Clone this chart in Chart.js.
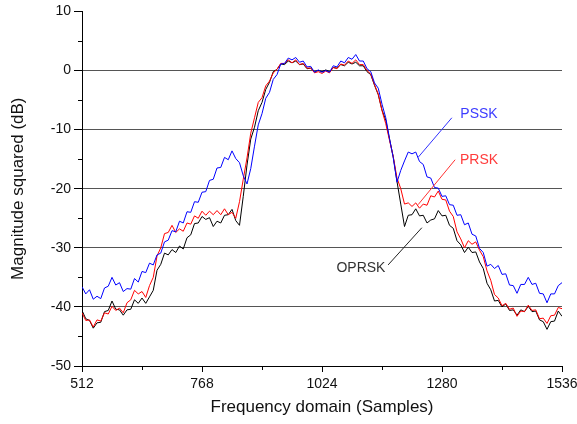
<!DOCTYPE html>
<html>
<head>
<meta charset="utf-8">
<script src="https://cdn.jsdelivr.net/npm/chart.js@4.4.1/dist/chart.umd.min.js"></script>
<style>
  html, body { margin: 0; padding: 0; background: #fff; }
  #wrap { width: 577px; height: 424px; position: relative; }
</style>
</head>
<body>
<div id="wrap"><canvas id="spectrum"></canvas></div>
<script>
// sample grid (every 8th bin from 512 to 1536)
const samples = Array.from({ length: 129 }, (_, i) => 512 + 8 * i);

const xTicks = [512, 768, 1024, 1280, 1536];
const xMinor = [640, 896, 1152, 1408];
const yTicks = [10, 0, -10, -20, -30, -40, -50];
const yMinor = [5, -5, -15, -25, -35, -45];

// PSSK (blue)
const pssk = [
  -36.6, -37.8, -37.1, -38.7, -38.2, -38.6, -36.8, -36.5, -35.0, -36.3,
  -35.9, -37.4, -36.9, -37.0, -35.2, -35.8, -34.0, -34.2, -32.6, -32.9,
  -31.2, -30.9, -29.0, -28.7, -27.1, -27.3, -25.5, -25.8, -23.9, -24.0,
  -22.2, -22.3, -20.6, -20.5, -18.6, -18.4, -16.5, -16.4, -14.7, -15.1,
  -13.6, -14.9, -15.6, -17.8, -19.2, -16.6, -12.8, -9.2, -7.3, -4.7,
  -3.7, -1.5, -0.7, 1.1, 1.2, 2.1, 1.8, 2.2, 1.4, 1.6,
  0.6, 0.7, -0.3, 0.1, -0.3, 0.0, -0.3, 0.8, 0.6, 1.6,
  1.3, 2.2, 1.9, 2.7, 1.6, 1.6, 0.3, -0.2, -2.1, -3.0,
  -5.7, -8.0, -11.5, -14.8, -18.9, -16.9, -15.3, -13.8, -14.1, -13.8,
  -15.4, -15.9, -18.0, -18.2, -19.8, -19.9, -21.3, -21.2, -22.7, -22.8,
  -24.5, -24.4, -26.1, -25.8, -27.7, -28.0, -30.1, -30.8, -33.1, -32.8,
  -33.5, -33.0, -34.5, -34.4, -36.3, -36.4, -37.7, -36.2, -36.2, -35.0,
  -36.2, -36.0, -37.7, -37.8, -39.3, -37.8, -37.8, -36.4, -35.9
];

// PRSK (red)
const prsk = [
  -41.0, -42.3, -42.2, -43.4, -42.2, -42.4, -41.0, -41.2, -39.9, -40.6,
  -40.2, -41.0, -39.3, -38.8, -37.2, -37.8, -37.4, -38.4, -36.4, -35.0,
  -31.4, -30.0, -27.6, -27.4, -26.2, -27.4, -26.8, -27.2, -25.8, -26.0,
  -24.6, -25.0, -23.8, -24.5, -23.8, -24.4, -23.7, -24.4, -23.4, -24.4,
  -24.0, -25.0, -22.2, -18.4, -14.8, -10.6, -8.0, -5.4, -4.6, -2.6,
  -1.8, -0.4, 0.2, 1.2, 1.2, 1.8, 1.3, 1.8, 1.0, 1.2,
  0.4, 0.4, -0.4, -0.2, -0.5, -0.1, -0.4, 0.5, 0.3, 1.1,
  0.9, 1.6, 1.2, 1.8, 1.0, 1.0, 0.0, -0.6, -2.4, -4.0,
  -6.8, -9.0, -11.8, -14.6, -18.2, -20.0, -22.6, -22.4, -23.0, -22.4,
  -23.3, -22.6, -22.8, -21.2, -21.4, -20.4, -21.8, -21.9, -23.8, -24.7,
  -27.3, -28.5, -30.0, -28.8, -29.4, -29.0, -30.4, -31.5, -33.9, -35.5,
  -37.9, -38.5, -39.8, -39.4, -40.4, -40.2, -41.6, -40.7, -40.8, -39.7,
  -40.6, -40.5, -42.0, -41.9, -42.8, -41.5, -41.4, -40.1, -40.3
];

// OPRSK (black)
const oprsk = [
  -40.6, -42.0, -42.3, -43.6, -42.7, -42.6, -40.8, -40.6, -39.0, -40.4,
  -40.5, -41.4, -40.5, -40.4, -38.8, -39.4, -38.5, -39.4, -38.3, -37.2,
  -33.8, -32.8, -30.9, -31.2, -30.3, -30.8, -29.7, -30.2, -28.3, -27.8,
  -25.9, -25.8, -24.7, -25.2, -24.9, -26.4, -25.5, -25.8, -24.5, -24.4,
  -23.5, -25.4, -26.2, -21.3, -16.0, -11.6, -9.6, -6.8, -5.4, -3.2,
  -2.0, -0.2, 0.2, 1.1, 1.0, 1.6, 1.3, 1.6, 1.0, 1.1,
  0.3, 0.4, -0.2, 0.0, -0.2, 0.1, -0.2, 0.5, 0.4, 1.0,
  0.8, 1.4, 1.1, 1.4, 0.8, 0.8, -0.2, -0.7, -2.5, -4.1,
  -6.7, -8.4, -11.6, -14.6, -18.8, -22.6, -26.4, -24.5, -24.4, -23.4,
  -24.6, -24.5, -25.8, -25.3, -25.1, -23.7, -24.6, -24.5, -26.2, -26.7,
  -28.8, -29.5, -30.8, -29.9, -30.8, -30.7, -32.4, -33.5, -36.0, -37.1,
  -39.0, -38.9, -40.0, -39.5, -40.6, -40.5, -41.4, -40.5, -40.8, -39.9,
  -40.8, -40.7, -42.2, -42.5, -43.8, -42.5, -42.4, -40.7, -41.6
];

// labels with leader lines, in data units
const callouts = [
  { text: 'PSSK', color: '#3c3cff', line: '#3030ff', at: [1359, -7.3], from: [1301, -8.0], to: [1229, -14.7] },
  { text: 'PRSK', color: '#ff3c3c', line: '#ff3030', at: [1359, -15.1], from: [1308, -15.1], to: [1229, -22.7] },
  { text: 'OPRSK', color: '#333333', line: '#222222', at: [1107, -33.4], from: [1165, -32.9], to: [1237, -26.6] }
];

const FONT = '"Liberation Sans", Arial, sans-serif';
const toPoints = vals => vals.map((v, i) => ({ x: samples[i], y: v }));

const extras = {
  id: 'extras',
  afterDraw(chart) {
    const { ctx, scales: { x, y } } = chart;
    ctx.save();
    // minor ticks
    ctx.strokeStyle = '#000';
    ctx.lineWidth = 1;
    ctx.beginPath();
    yMinor.forEach(v => {
      const py = Math.round(y.getPixelForValue(v)) + 0.5;
      ctx.moveTo(x.left - 4, py);
      ctx.lineTo(x.left, py);
    });
    xMinor.forEach(v => {
      const px = Math.round(x.getPixelForValue(v)) + 0.5;
      ctx.moveTo(px, y.bottom);
      ctx.lineTo(px, y.bottom + 4);
    });
    ctx.stroke();

    // callouts
    ctx.font = '14px ' + FONT;
    ctx.textAlign = 'center';
    ctx.textBaseline = 'middle';
    callouts.forEach(c => {
      ctx.strokeStyle = c.line;
      ctx.beginPath();
      ctx.moveTo(x.getPixelForValue(c.from[0]), y.getPixelForValue(c.from[1]));
      ctx.lineTo(x.getPixelForValue(c.to[0]), y.getPixelForValue(c.to[1]));
      ctx.stroke();
      ctx.fillStyle = c.color;
      ctx.fillText(c.text, x.getPixelForValue(c.at[0]), y.getPixelForValue(c.at[1]));
    });
    ctx.restore();
  }
};

const ctx = document.getElementById('spectrum').getContext('2d');
new Chart(ctx, {
  type: 'line',
  data: {
    datasets: [
      { label: 'PSSK', data: toPoints(pssk), borderColor: '#0000ff', order: 0 },
      { label: 'PRSK', data: toPoints(prsk), borderColor: '#ff0000', order: 1 },
      { label: 'OPRSK', data: toPoints(oprsk), borderColor: '#000000', order: 2 }
    ]
  },
  options: {
    responsive: true,
    maintainAspectRatio: false,
    animation: false,
    devicePixelRatio: 1,
    layout: { padding: { left: 0, right: 15, top: 11, bottom: 0 } },
    elements: {
      line: { borderWidth: 1, tension: 0 },
      point: { radius: 0 }
    },
    scales: {
      x: {
        type: 'linear',
        min: 512,
        max: 1536,
        afterBuildTicks: s => { s.ticks = xTicks.map(v => ({ value: v })); },
        afterFit: s => { s.height = 58; s.paddingRight = 0; s.paddingLeft = 0; },
        ticks: {
          color: '#111',
          padding: 4,
          maxRotation: 0,
          callback: v => String(v),
          font: { family: FONT, size: 14 }
        },
        grid: { drawOnChartArea: false, tickLength: 6, tickColor: '#000' },
        border: { color: '#000', width: 1 },
        title: {
          display: true,
          text: 'Frequency domain (Samples)',
          color: '#111',
          padding: { top: 2, bottom: 6 },
          font: { family: FONT, size: 17 }
        }
      },
      y: {
        min: -50,
        max: 10,
        afterBuildTicks: s => { s.ticks = yTicks.map(v => ({ value: v })); },
        afterFit: s => { s.width = 82; },
        ticks: {
          color: '#111',
          padding: 3,
          callback: v => String(v),
          font: { family: FONT, size: 14 }
        },
        grid: {
          color: c => (c.tick && c.tick.value < 10 && c.tick.value > -50) ? '#555' : 'rgba(0,0,0,0)',
          tickColor: '#000',
          tickLength: 8
        },
        border: { color: '#000', width: 1 },
        title: {
          display: true,
          text: 'Magnitude squared (dB)',
          color: '#111',
          padding: { top: 8, bottom: 4 },
          font: { family: FONT, size: 17 }
        }
      }
    },
    plugins: {
      legend: { display: false },
      tooltip: { enabled: false }
    }
  },
  plugins: [extras]
});
</script>
</body>
</html>
